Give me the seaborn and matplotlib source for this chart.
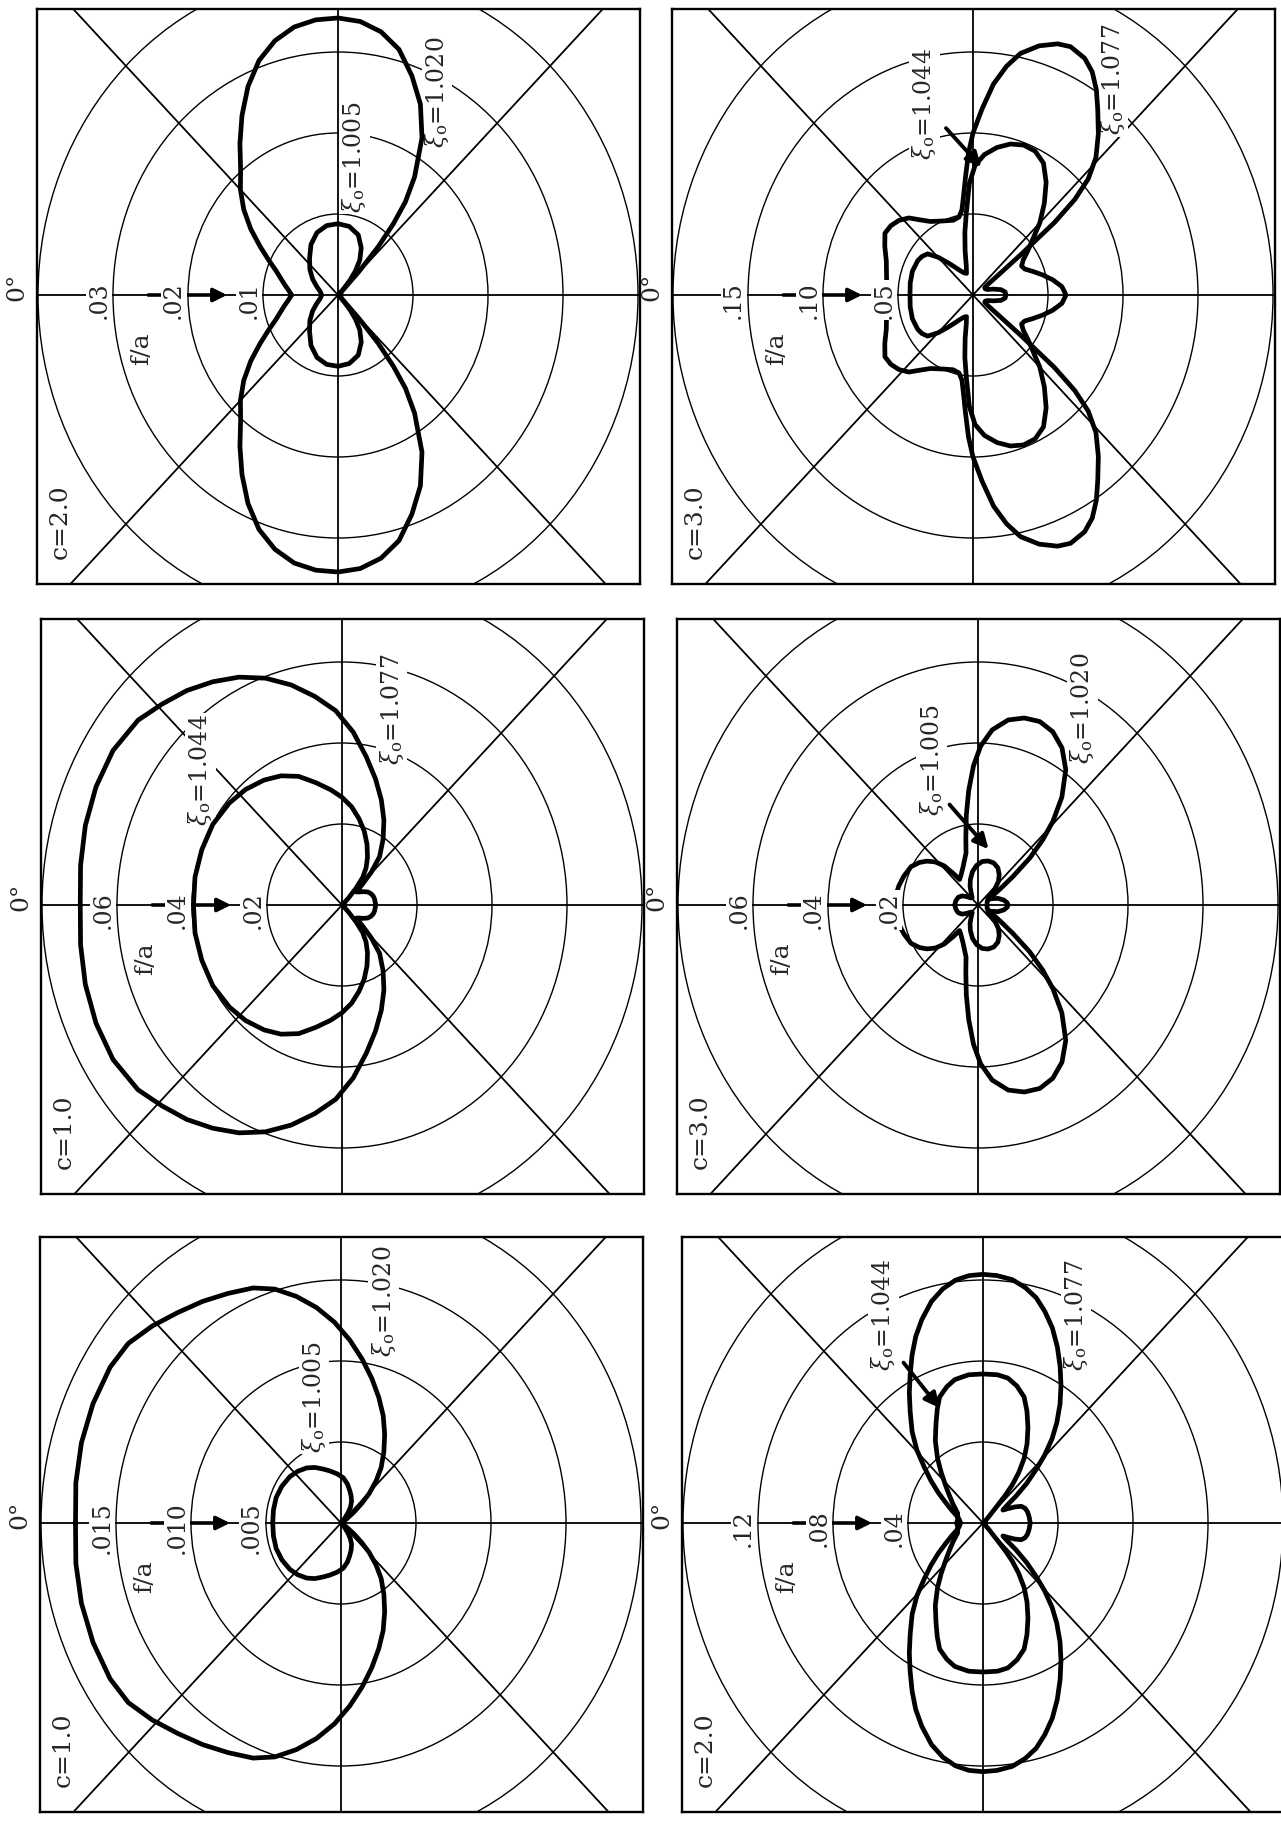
import numpy as np
import pandas as pd
import matplotlib
matplotlib.use("Agg")
import matplotlib.pyplot as plt
import seaborn as sns
from matplotlib.patches import Circle

sns.set_theme(style="white")
plt.rcParams["font.family"] = ["DejaVu Serif"]
plt.rcParams["mathtext.fontset"] = "dejavuserif"

# ---------------------------------------------------------------------------
# Radiation patterns f/a versus angle (degrees from the 0 deg direction),
# one half of each symmetric pattern, 0 .. 180 deg.
# ---------------------------------------------------------------------------

# c = 2.0, xi0 = 1.005 / 1.020
c2a_xi1005_theta = [0, 10, 20, 30, 40, 50, 60, 70, 80, 90, 100, 110, 118, 124, 128,
                    131, 134, 138, 150, 180]
c2a_xi1005_fa = [.0022, .0024, .003, .0039, .0049, .0059, .0072, .0082, .0087,
                 .0088, .0086, .0079, .0066, .0052, .0038, .0025, .0012, .0004,
                 .0002, .0002]
c2a_xi1020_theta = [0, 5, 10, 15, 20, 25, 30, 35, 40, 45, 50, 55, 60, 65, 70, 75,
                    80, 85, 90, 95, 100, 105, 110, 115, 120, 125, 128, 130, 132,
                    134, 136, 140, 160, 180]
c2a_xi1020_fa = [.0062, .0066, .0072, .0079, .0088, .0102, .012, .0142, .0164,
                 .0184, .0202, .0228, .0256, .0284, .0308, .0325, .0336, .0341,
                 .0342, .0339, .033, .0314, .0288, .026, .0224, .0178, .0146,
                 .0115, .008, .004, .0012, .0005, .0004, .0004]

# c = 3.0, xi0 = 1.044 / 1.077
c3a_xi1044_theta = [0, 10, 20, 30, 35, 40, 45, 50, 55, 60, 66, 72, 76, 79, 82, 85,
                    88, 91, 95, 100, 105, 110, 115, 120, 125, 130, 135, 139, 143,
                    147, 151, 155, 160, 165, 170, 175, 180]
c3a_xi1044_fa = [.042, .0425, .043, .0425, .0415, .0395, .033, .026, .021, .0175,
                 .015, .014, .0185, .0275, .039, .051, .069, .080, .087, .0925,
                 .0965, .0985, .098, .094, .085, .074, .063, .053, .046, .040,
                 .037, .038, .0425, .048, .054, .0595, .062]
c3a_xi1077_theta = [0, 10, 20, 27, 33, 38, 43, 48, 53, 58, 66, 74, 79, 82, 84, 86,
                    88, 90, 93, 96, 99, 102, 106, 110, 113, 117, 120, 123, 126,
                    130, 134, 137, 139, 140.5, 142, 144, 147, 150, 155, 160, 165,
                    170, 175, 180]
c3a_xi1077_fa = [.0575, .0585, .0615, .066, .070, .0695, .0675, .064, .058, .0535,
                 .050, .048, .049, .053, .061, .0725, .0875, .100, .115, .131,
                 .143, .1525, .160, .165, .1665, .164, .159, .151, .1415, .130,
                 .118, .105, .090, .0705, .040, .020, .011, .009, .009, .010,
                 .014, .019, .0215, .022]

# c = 1.0, xi0 = 1.044 / 1.077
c1a_xi1044_theta = [0, 10, 20, 30, 40, 48, 56, 63, 70, 77, 84, 90, 96, 102, 108,
                    114, 120, 125, 129, 132, 135, 140, 180]
c1a_xi1044_fa = [.0396, .0398, .0398, .0398, .0392, .0384, .0372, .0358, .0338,
                 .031, .0286, .0266, .0244, .0218, .0192, .0164, .0136, .0112,
                 .0088, .0056, .0024, .0006, .0006]
c1a_xi1077_theta = [0, 8, 16, 24, 32, 40, 46, 52, 58, 64, 70, 76, 82, 88, 94, 100,
                    106, 112, 118, 124, 130, 134, 137, 140, 145, 150, 155, 160,
                    165, 170, 180]
c1a_xi1077_fa = [.0698, .0704, .0712, .0718, .072, .071, .069, .0672, .065, .0626,
                 .0596, .056, .052, .048, .0428, .0372, .0324, .028, .0238,
                 .0196, .0156, .0112, .0072, .005, .0056, .0066, .0076, .0082,
                 .0086, .0088, .009]

# c = 3.0, xi0 = 1.005 / 1.020
c3b_xi1005_theta = [0, 10, 20, 28, 35, 42, 50, 58, 65, 72, 80, 88, 96, 104, 112,
                    120, 127, 133, 138, 143, 150, 157, 163, 170, 176, 180]
c3b_xi1005_fa = [.0062, .006, .0056, .0048, .0036, .0026, .0024, .0034, .005,
                 .0066, .0084, .0098, .0108, .0112, .0112, .0106, .0094, .008,
                 .0062, .004, .003, .004, .0056, .007, .0078, .008]
c3b_xi1020_theta = [0, 7, 13, 20, 28, 34, 38.5, 43, 47, 50, 52, 58, 67, 73, 76, 79,
                    82, 85, 88, 91, 95, 100, 105, 110, 115, 120, 125, 130, 134,
                    137, 140, 143, 146, 150, 160, 180]
c3b_xi1020_fa = [.022, .022, .0216, .021, .0202, .0188, .0174, .0156, .0132, .010,
                 .008, .0086, .0102, .012, .0132, .017, .0224, .0284, .0344,
                 .0392, .0434, .0464, .0478, .0482, .0472, .0448, .0408, .0348,
                 .0288, .0236, .018, .0116, .0072, .0044, .0026, .0024]

# c = 1.0, xi0 = 1.005 / 1.020
c1b_xi1005_theta = [0, 10, 20, 30, 40, 48, 56, 63, 70, 77, 85, 93, 100, 106, 112,
                    118, 123, 127, 131, 135, 180]
c1b_xi1005_fa = [.00455, .004575, .0046, .00455, .00445, .0043, .0041, .00385,
                 .00355, .0033, .00305, .0028, .00245, .0021, .0018, .0015,
                 .00115, .00075, .00035, .00015, .0001]
c1b_xi1020_theta = [0, 8, 16, 24, 32, 38, 44, 50, 56, 62, 68, 73, 78, 83, 88, 93,
                    98, 103, 108, 113, 118, 123, 128, 132, 136, 139, 142, 146,
                    150, 180]
c1b_xi1020_fa = [.0177, .01785, .018, .0181, .01815, .018, .0175, .01695, .0165,
                 .01605, .01565, .0151, .0143, .0134, .0124, .0113, .0102,
                 .00915, .00815, .0072, .0062, .00525, .00435, .0035, .0026,
                 .0018, .0011, .00045, .0002, .00015]

# c = 2.0, xi0 = 1.044 / 1.077
c2b_xi1044_theta = [0, 10, 20, 30, 37, 42, 48, 52.7, 58, 63, 66.5, 69.6, 74, 78,
                    84, 90, 96, 100.5, 105, 109.4, 113, 117, 121, 124.5, 127.5,
                    129.7, 131, 132, 135, 140, 180]
c2b_xi1044_fa = [.014, .0136, .0144, .0184, .0224, .0264, .0332, .040, .048,
                 .0552, .0612, .0664, .070, .0724, .0736, .0736, .0736, .0728,
                 .070, .066, .060, .0528, .0456, .0388, .0312, .0244, .018,
                 .0104, .004, .0012, .0012]
c2b_xi1077_theta = [0, 8, 15, 21, 27, 32, 37, 41.5, 45.6, 50, 54.7, 58.5, 62,
                    65.5, 68.7, 72, 75.9, 79.5, 83, 86.5, 90, 93.5, 97.4, 101,
                    104.3, 107.5, 111, 114.5, 118, 121.5, 125, 128.5, 131.5,
                    134.5, 137, 140, 143, 146, 149, 152, 155, 158, 162, 167, 173,
                    180]
c2b_xi1077_fa = [.012, .0128, .0148, .018, .0224, .028, .0348, .042, .0504, .0588,
                 .0672, .0752, .0828, .0912, .0988, .1056, .1128, .1176, .1208,
                 .1224, .1228, .1224, .1212, .1184, .1148, .1096, .1032, .0956,
                 .0876, .0796, .0716, .0632, .0556, .0468, .0388, .0304, .022,
                 .0152, .0124, .0152, .0188, .022, .0236, .0244, .0248, .0252]

# ring labels of each panel
ticks_c2a = [".01", ".02", ".03"]
ticks_c3a = [".05", ".10", ".15"]
ticks_c1a = [".02", ".04", ".06"]
ticks_c3b = [".02", ".04", ".06"]
ticks_c1b = [".005", ".010", ".015"]
ticks_c2b = [".04", ".08", ".12"]

# ---------------------------------------------------------------------------
W, H = 1281, 1821
fig = plt.figure(figsize=(W / 100, H / 100), dpi=100)
fig.patch.set_facecolor("white")

XI = r"$\xi_{\rm o}$="

panels = [
    dict(c="c=2.0", step=0.01, center=(338, 295), ticks=ticks_c2a,
         curves=[(c2a_xi1005_theta, c2a_xi1005_fa), (c2a_xi1020_theta, c2a_xi1020_fa)],
         labels=[(XI + "1.005", 0.22, 1.70), (XI + "1.020", 1.32, 2.50)],
         pointer=None),
    dict(c="c=3.0", step=0.05, center=(973, 295), ticks=ticks_c3a,
         curves=[(c3a_xi1044_theta, c3a_xi1044_fa), (c3a_xi1077_theta, c3a_xi1077_fa)],
         labels=[(XI + "1.044", -0.65, 2.36), (XI + "1.077", 1.86, 2.66)],
         pointer=((-0.36, 2.06), (0.11, 1.58))),
    dict(c="c=1.0", step=0.02, center=(342, 905), ticks=ticks_c1a,
         curves=[(c1a_xi1044_theta, c1a_xi1044_fa), (c1a_xi1077_theta, c1a_xi1077_fa)],
         labels=[(XI + "1.044", -1.89, 1.66), (XI + "1.077", 0.66, 2.42)],
         pointer=None),
    dict(c="c=3.0", step=0.02, center=(978, 905), ticks=ticks_c3b,
         curves=[(c3b_xi1005_theta, c3b_xi1005_fa), (c3b_xi1020_theta, c3b_xi1020_fa)],
         labels=[(XI + "1.005", -0.62, 1.78), (XI + "1.020", 1.39, 2.43)],
         pointer=((-0.38, 1.24), (0.14, 0.69))),
    dict(c="c=1.0", step=0.005, center=(341, 1523), ticks=ticks_c1b,
         curves=[(c1b_xi1005_theta, c1b_xi1005_fa), (c1b_xi1020_theta, c1b_xi1020_fa)],
         labels=[(XI + "1.005", -0.36, 1.55), (XI + "1.020", 0.57, 2.74)],
         pointer=None),
    dict(c="c=2.0", step=0.04, center=(983, 1523), ticks=ticks_c2b,
         curves=[(c2b_xi1044_theta, c2b_xi1044_fa), (c2b_xi1077_theta, c2b_xi1077_fa)],
         labels=[(XI + "1.044", -1.33, 2.57), (XI + "1.077", 1.24, 2.57)],
         pointer=((-1.06, 1.98), (-0.58, 1.42))),
]

HALF_W, UP, DOWN = 301.5, 286, 289     # frame extent around the pole, px
RX, RY = 75.0, 81.0                    # px per ring step, horizontal / vertical
GRID_LW, AXIS_LW, CURVE_LW = 1.0, 1.3, 3.4
WHITE = dict(facecolor="white", edgecolor="none", pad=1.0)


def closed_pattern(theta_deg, fa):
    th = np.radians(np.asarray(theta_deg, dtype=float))
    r = np.asarray(fa, dtype=float)
    x = -r * np.cos(th)
    y = r * np.sin(th)
    xs = np.concatenate([x, x[::-1]])
    ys = np.concatenate([y, -y[::-1]])
    return pd.DataFrame({"x": xs, "y": ys})


for p in panels:
    cx, cy = p["center"]
    s = p["step"]
    ax = fig.add_axes([(cx - HALF_W) / W, 1 - (cy + DOWN) / H,
                       2 * HALF_W / W, (UP + DOWN) / H])
    ax.set_xlim(-HALF_W / RX * s, HALF_W / RX * s)
    ax.set_ylim(-DOWN / RY * s, UP / RY * s)
    ax.set_xticks([])
    ax.set_yticks([])
    ax.set_facecolor("white")
    for sp in ax.spines.values():
        sp.set_linewidth(1.7)
        sp.set_color("black")
        sp.set_visible(True)

    # polar grid
    for k in range(1, 5):
        ax.add_patch(Circle((0, 0), k * s, fill=False, lw=GRID_LW,
                            ec="black", zorder=1))
    ax.axhline(0, color="black", lw=AXIS_LW, zorder=1)
    ax.axvline(0, color="black", lw=AXIS_LW, zorder=1)
    big = 8 * s
    ax.plot([-big, big], [-big, big], color="black", lw=AXIS_LW, zorder=1)
    ax.plot([-big, big], [big, -big], color="black", lw=AXIS_LW, zorder=1)

    # patterns
    for th, fa in p["curves"]:
        df = closed_pattern(th, fa)
        sns.lineplot(data=df, x="x", y="y", sort=False, estimator=None,
                     color="black", lw=CURVE_LW, ax=ax, zorder=4)
    ax.set_xlabel("")
    ax.set_ylabel("")

    # radial scale arrow and labels
    ax.annotate("", xy=(-1.48 * s, 0), xytext=(-2.53 * s, 0),
                arrowprops=dict(arrowstyle="-|>", lw=2.6, color="black",
                                mutation_scale=20, shrinkA=0, shrinkB=0),
                zorder=5)
    for k, lab in enumerate(p["ticks"], start=1):
        ax.text(-(k + 0.19) * s, -0.06 * s, lab, rotation=90, ha="center",
                va="center", fontsize=17, bbox=WHITE, zorder=6)
    ax.text(-4.28 * s, 0.10 * s, "0°", rotation=90, ha="center", va="center",
            fontsize=18, clip_on=False)
    ax.text(-2.62 * s, -0.66 * s, "f/a", rotation=90, ha="center", va="center",
            fontsize=18, zorder=6)
    ax.text(-3.70 * s, -2.80 * s, p["c"], rotation=90, ha="center", va="center",
            fontsize=18, zorder=6)

    for txt, dx, dy in p["labels"]:
        ax.text(dx * s, dy * s, txt, rotation=90, ha="center", va="center",
                fontsize=17, bbox=WHITE, zorder=3)
    if p["pointer"] is not None:
        (tx, ty), (hx, hy) = p["pointer"]
        ax.annotate("", xy=(hx * s, hy * s), xytext=(tx * s, ty * s),
                    arrowprops=dict(arrowstyle="-|>", lw=2.8, color="black",
                                    mutation_scale=22, shrinkA=0, shrinkB=0),
                    zorder=5)

fig.savefig("out.png", dpi=100, facecolor="white")
